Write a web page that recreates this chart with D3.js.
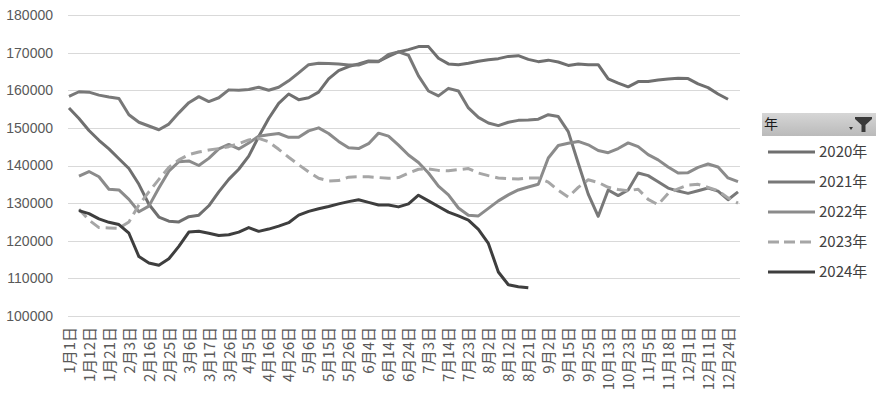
<!DOCTYPE html>
<html>
<head>
<meta charset="utf-8">
<script src="https://cdn.jsdelivr.net/npm/d3@7"></script>
<style>
  body { margin: 0; background: #fff; }
  svg { display: block; }
</style>
</head>
<body>
<script>

var width = 879,
	height = 397;

// dates on the category axis, every other one is labelled
var categories = ["1月1日","1月6日","1月12日","1月16日","1月21日","1月27日","2月3日","2月10日","2月16日","2月20日",
	"2月25日","3月1日","3月6日","3月11日","3月17日","3月21日","3月26日","3月31日","4月5日","4月11日",
	"4月16日","4月21日","4月26日","4月30日","5月6日","5月11日","5月15日","5月21日","5月26日","5月31日",
	"6月4日","6月9日","6月14日","6月19日","6月24日","6月28日","7月3日","7月9日","7月14日","7月19日",
	"7月23日","7月28日","8月2日","8月7日","8月12日","8月16日","8月21日","8月27日","9月2日","9月9日",
	"9月15日","9月20日","9月25日","10月8日","10月13日","10月18日","10月23日","10月30日","11月5日","11月12日",
	"11月18日","11月25日","12月1日","12月6日","12月11日","12月17日","12月24日","12月30日"];

var yTicks = [100000, 110000, 120000, 130000, 140000, 150000, 160000, 170000, 180000];

var years = ["2020年", "2021年", "2022年", "2023年", "2024年"];

var v2020 = [155300,152500,149300,146700,144400,141800,139200,135000,129700,126300,
	125200,125000,126400,126800,129300,133000,136300,139000,142500,147700,
	152500,156500,159000,157500,158000,159500,163000,165200,166300,167000,
	167800,167700,169000,170200,170800,171600,171600,168500,167000,166800,
	167200,167700,168100,168400,169000,169200,168200,167600,168000,167500,
	166600,167000,166800,166800,163000,161900,160900,162300,162300,162700,
	163000,163200,163100,161700,160700,159000,157600,null];

var v2021 = [158400,159600,159500,158700,158200,157800,153500,151500,150500,149500,
	151000,154000,156700,158300,157000,158000,160100,160000,160200,160800,
	160000,160800,162500,164600,166800,167200,167100,167000,166700,166700,
	167600,167600,169500,170200,169300,163800,159800,158500,160500,159800,
	155300,152800,151300,150600,151500,152000,152100,152300,153500,153000,
	149000,140600,132400,126500,133500,132000,133500,138000,137300,135700,
	134000,133200,132600,133300,134000,133200,130900,133000];

var v2022 = [null,137200,138400,137000,133700,133500,131000,127700,129200,134000,
	138500,141000,141200,140000,141900,144400,145600,144400,146000,147800,
	148200,148500,147500,147500,149200,150000,148500,146400,144700,144500,
	145800,148600,147800,145400,142800,140800,138000,134500,132200,128700,
	126800,126600,128600,130600,132200,133500,134300,135000,142000,145300,
	145900,146400,145500,144000,143400,144500,146000,145000,142900,141500,
	139600,138000,138100,139500,140400,139600,136700,135700];

var v2023 = [null,128400,125500,123500,123400,123300,125000,129500,133000,136300,
	139500,141500,142900,143600,144100,144500,145000,145800,146800,147200,
	146300,144300,142200,140200,138300,136600,135900,136000,136900,137000,
	137000,136800,136600,136800,138000,139000,139100,138700,138600,138900,
	139200,138000,137300,136700,136500,136400,136700,136700,135600,133400,
	131600,134200,136200,135500,134200,133600,133300,133700,131000,129600,
	132600,133800,134800,135000,134200,133300,131400,130000];

var v2024 = [null,128000,127200,125800,124900,124300,122000,115800,114100,113500,
	115200,118500,122300,122500,122000,121400,121600,122300,123500,122500,
	123100,123900,124800,126800,127800,128500,129100,129800,130400,130900,
	130200,129500,129500,129000,129800,132100,130600,129100,127600,126600,
	125500,123000,119300,111700,108300,107800,107500,null,null,null,
	null,null,null,null,null,null,null,null,null,null,
	null,null,null,null,null,null,null,null];

var colors = ["#6f6f6f", "#787878", "#8b8b8b", "#a6a6a6", "#3e3e3e"];
var dashes = [null, null, null, "11,6", null];

var series = [v2020, v2021, v2022, v2023, v2024].map(function(vals, i) {
	return { name: years[i], values: vals, color: colors[i], dash: dashes[i] };
});

var svg = d3.select("body").append("svg")
	.attr("width", width)
	.attr("height", height);

var x = d3.scalePoint()
	.domain(categories)
	.range([69, 738]);

var y = d3.scaleLinear()
	.domain([100000, 180000])
	.range([316, 15]);

// horizontal grid
svg.append("g")
	.selectAll("line")
	.data(yTicks)
	.enter().append("line")
	.attr("x1", 68)
	.attr("x2", 740)
	.attr("y1", function(d) { return Math.round(y(d)) + 0.5; })
	.attr("y2", function(d) { return Math.round(y(d)) + 0.5; })
	.attr("stroke", "#d9d9d9")
	.attr("stroke-width", 1);

// y axis labels
var yAxis = d3.axisLeft(y)
	.tickValues(yTicks)
	.tickSize(0)
	.tickPadding(0)
	.tickFormat(d3.format("d"));

var gy = svg.append("g")
	.attr("transform", "translate(53,0)")
	.call(yAxis);
gy.select(".domain").remove();
gy.selectAll("text")
	.attr("fill", "#595959")
	.style("font-family", "'Liberation Sans Narrow', 'Liberation Sans', sans-serif")
	.style("font-size", "14px");

// x axis labels, rotated
var xAxis = d3.axisBottom(x)
	.tickValues(categories.filter(function(d, i) { return i % 2 === 0; }))
	.tickSize(0);

var gx = svg.append("g")
	.attr("transform", "translate(0,316)")
	.call(xAxis);
gx.select(".domain").remove();
gx.selectAll("text")
	.attr("transform", "rotate(-90)")
	.attr("text-anchor", "end")
	.attr("x", -11)
	.attr("y", 0)
	.attr("dy", "0.35em")
	.attr("fill", "#595959")
	.style("font-family", "'Noto Sans CJK SC', sans-serif")
	.style("font-size", "15px");

// lines
var line = d3.line()
	.defined(function(d) { return d != null; })
	.x(function(d, i) { return x(categories[i]); })
	.y(function(d) { return y(d); });

svg.append("g")
	.selectAll("path")
	.data(series)
	.enter().append("path")
	.attr("d", function(d) { return line(d.values); })
	.attr("fill", "none")
	.attr("stroke", function(d) { return d.color; })
	.attr("stroke-width", 3)
	.attr("stroke-linejoin", "round")
	.attr("stroke-dasharray", function(d) { return d.dash; });

// legend
var defs = svg.append("defs");
var grad = defs.append("linearGradient")
	.attr("id", "hdr")
	.attr("x1", 0).attr("y1", 0).attr("x2", 0).attr("y2", 1);
grad.append("stop").attr("offset", "0%").attr("stop-color", "#d6d6d6");
grad.append("stop").attr("offset", "100%").attr("stop-color", "#bababa");

var lg = svg.append("g");

lg.append("rect")
	.attr("x", 762)
	.attr("y", 113)
	.attr("width", 114)
	.attr("height", 23)
	.attr("fill", "url(#hdr)");

lg.append("text")
	.attr("x", 764)
	.attr("y", 129)
	.attr("fill", "#1a1a1a")
	.style("font-family", "'Noto Sans CJK SC', sans-serif")
	.style("font-size", "14px")
	.text("年");

// filter button: small arrow and funnel
lg.append("path")
	.attr("d", "M849,127 L853,127 L851,130 Z")
	.attr("fill", "#333");
lg.append("path")
	.attr("d", "M855,117 L872,117 L872,119 L865.5,125 L865.5,132 L861.5,132 L861.5,125 L855,119 Z")
	.attr("fill", "#3a3a3a");

var items = lg.selectAll(".item")
	.data(series)
	.enter().append("g")
	.attr("class", "item")
	.attr("transform", function(d, i) { return "translate(0," + (152 + i * 30) + ")"; });

items.append("line")
	.attr("x1", 768)
	.attr("x2", 815)
	.attr("stroke", function(d) { return d.color; })
	.attr("stroke-width", 3)
	.attr("stroke-dasharray", function(d) { return d.dash ? "11,5" : null; });

items.append("text")
	.attr("x", 819)
	.attr("dy", "0.35em")
	.attr("fill", "#404040")
	.style("font-family", "'Noto Sans CJK SC', sans-serif")
	.style("font-size", "15px")
	.text(function(d) { return d.name; });

</script>
</body>
</html>
